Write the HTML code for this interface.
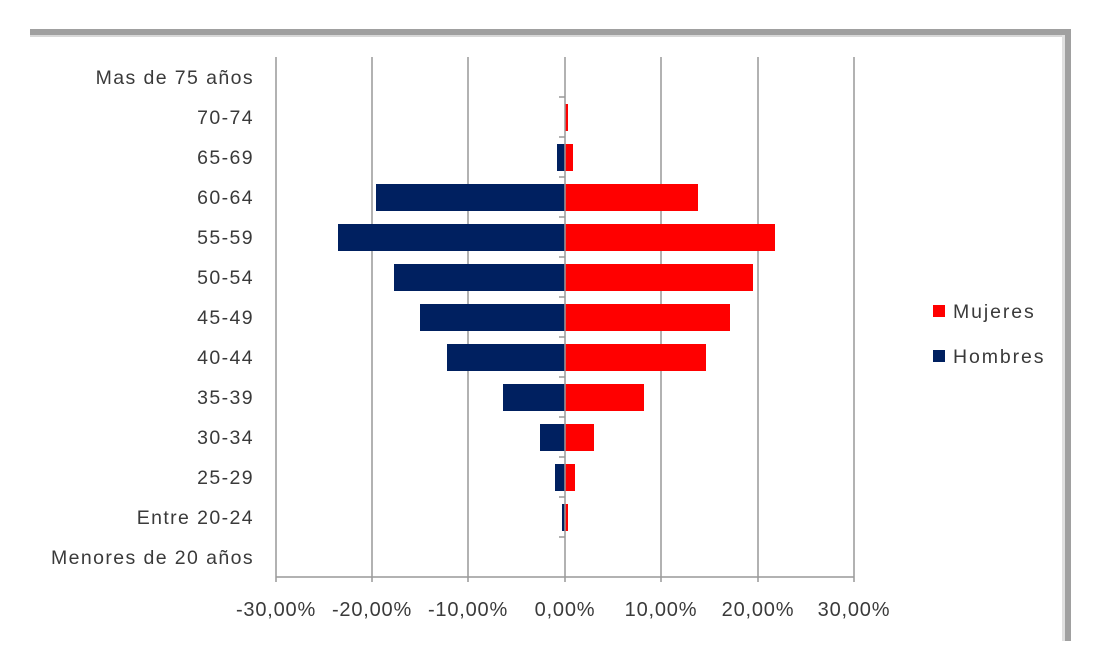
<!DOCTYPE html>
<html><head><meta charset="utf-8"><style>
html,body{margin:0;padding:0;background:#fff;}
svg{display:block;font-family:"Liberation Sans",sans-serif;}
</style></head><body>
<svg width="1099" height="669" xmlns="http://www.w3.org/2000/svg">
<rect x="30" y="29" width="1040" height="6" fill="#a0a0a0"/>
<rect x="30" y="35" width="1040" height="2" fill="#d8d8d8"/>
<rect x="1065" y="29" width="6" height="612" fill="#a0a0a0"/>
<rect x="1062" y="35" width="3" height="606" fill="#e0e0e0"/>
<g stroke="#999" stroke-width="1.5">
<line x1="276" y1="57" x2="276" y2="582"/>
<line x1="372" y1="57" x2="372" y2="582"/>
<line x1="468" y1="57" x2="468" y2="582"/>
<line x1="661" y1="57" x2="661" y2="582"/>
<line x1="758" y1="57" x2="758" y2="582"/>
<line x1="854" y1="57" x2="854" y2="582"/>
<line x1="276" y1="577" x2="854" y2="577"/>
</g>
<g fill="#002060">
<rect x="557" y="144" width="8" height="27"/>
<rect x="376" y="184" width="189" height="27"/>
<rect x="338" y="224" width="227" height="27"/>
<rect x="394" y="264" width="171" height="27"/>
<rect x="420" y="304" width="145" height="27"/>
<rect x="447" y="344" width="118" height="27"/>
<rect x="503" y="384" width="62" height="27"/>
<rect x="540" y="424" width="25" height="27"/>
<rect x="555" y="464" width="10" height="27"/>
<rect x="562" y="504" width="3" height="27"/>
</g>
<g fill="#ff0000">
<rect x="565" y="104" width="3" height="27"/>
<rect x="565" y="144" width="8" height="27"/>
<rect x="565" y="184" width="133" height="27"/>
<rect x="565" y="224" width="210" height="27"/>
<rect x="565" y="264" width="188" height="27"/>
<rect x="565" y="304" width="165" height="27"/>
<rect x="565" y="344" width="141" height="27"/>
<rect x="565" y="384" width="79" height="27"/>
<rect x="565" y="424" width="29" height="27"/>
<rect x="565" y="464" width="10" height="27"/>
<rect x="565" y="504" width="3" height="27"/>
</g>
<g stroke="#999" stroke-width="1.5">
<line x1="565" y1="57" x2="565" y2="582"/>
<line x1="559" y1="97" x2="565" y2="97"/><line x1="559" y1="137" x2="565" y2="137"/>
<line x1="559" y1="177" x2="565" y2="177"/><line x1="559" y1="217" x2="565" y2="217"/>
<line x1="559" y1="257" x2="565" y2="257"/><line x1="559" y1="297" x2="565" y2="297"/>
<line x1="559" y1="337" x2="565" y2="337"/><line x1="559" y1="377" x2="565" y2="377"/>
<line x1="559" y1="417" x2="565" y2="417"/><line x1="559" y1="457" x2="565" y2="457"/>
<line x1="559" y1="497" x2="565" y2="497"/><line x1="559" y1="537" x2="565" y2="537"/>
</g>
<g font-size="19.5" fill="#3a3a3a" text-anchor="end" letter-spacing="1.4">
<text x="254" y="84">Mas de 75 años</text>
<text x="254" y="124">70-74</text>
<text x="254" y="164">65-69</text>
<text x="254" y="204">60-64</text>
<text x="254" y="244">55-59</text>
<text x="254" y="284">50-54</text>
<text x="254" y="324">45-49</text>
<text x="254" y="364">40-44</text>
<text x="254" y="404">35-39</text>
<text x="254" y="444">30-34</text>
<text x="254" y="484">25-29</text>
<text x="254" y="524">Entre 20-24</text>
<text x="254" y="564">Menores de 20 años</text>
</g>
<g font-size="20" fill="#3a3a3a" text-anchor="middle" letter-spacing="0.8">
<text x="276" y="616">-30,00%</text>
<text x="372" y="616">-20,00%</text>
<text x="468" y="616">-10,00%</text>
<text x="565" y="616">0,00%</text>
<text x="661" y="616">10,00%</text>
<text x="758" y="616">20,00%</text>
<text x="854" y="616">30,00%</text>
</g>
<rect x="933" y="305" width="12" height="12" fill="#ff0000"/>
<rect x="933" y="350" width="12" height="12" fill="#002060"/>
<g font-size="19.5" fill="#3a3a3a" letter-spacing="1.9">
<text x="953" y="318">Mujeres</text>
<text x="953" y="363">Hombres</text>
</g>
</svg>
</body></html>
